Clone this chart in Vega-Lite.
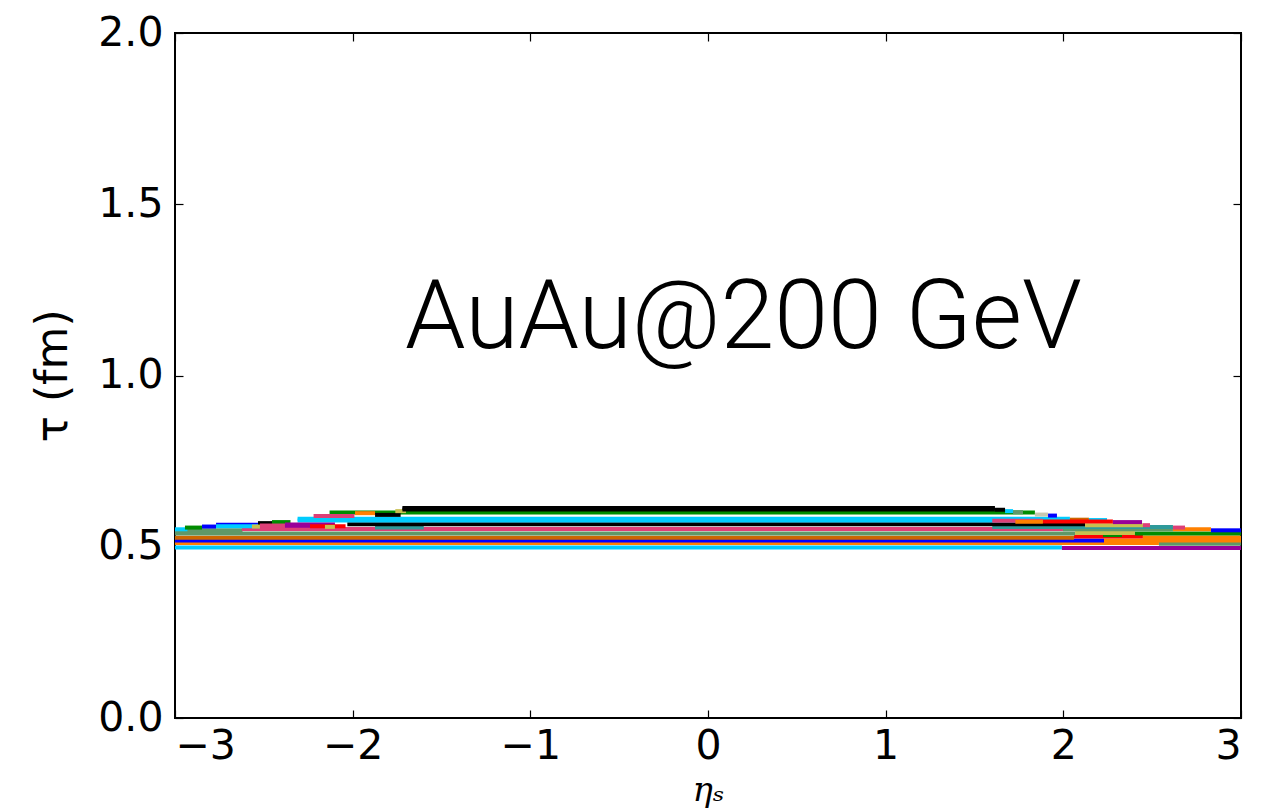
{
  "$schema": "https://vega.github.io/schema/vega-lite/v6.json",
  "autosize": {"type": "none"},
  "width": 1066,
  "height": 685,
  "padding": {"left": 175, "top": 33, "right": 41, "bottom": 90},
  "background": "white",
  "title": {"text": "ηₛ", "font": "DejaVu Serif", "fontStyle": "italic", "fontWeight": "normal", "fontSize": 36, "offset": 26, "color": "black"},
  "config": {
    "view": {"stroke": "black", "strokeWidth": 2},
    "axis": {"domain": false, "grid": false, "tickColor": "black", "tickWidth": 1.2, "tickSize": -8, "labelColor": "black", "titleColor": "black", "labelFont": "DejaVu Sans", "labelFontSize": 41, "titleFont": "DejaVu Sans", "titleFontWeight": "normal"}
  },
  "layer": [
    {
      "data": {"values": [
        {"x": -3, "x2": 1.992, "y": 0.498, "ev": "e2"},
        {"x": 1.992, "x2": 3, "y": 0.496, "ev": "e9"},
        {"x": -3, "x2": 2.538, "y": 0.511, "ev": "e5"},
        {"x": 2.538, "x2": 3, "y": 0.509, "ev": "e8"},
        {"x": -3, "x2": 2.229, "y": 0.518, "ev": "e3"},
        {"x": 2.229, "x2": 3, "y": 0.518, "ev": "e5"},
        {"x": -3, "x2": 2.06, "y": 0.526, "ev": "e6"},
        {"x": 2.06, "x2": 2.448, "y": 0.530, "ev": "e12"},
        {"x": 2.448, "x2": 3, "y": 0.527, "ev": "e5"},
        {"x": 2.223, "x2": 2.33, "y": 0.534, "ev": "e4"},
        {"x": -3, "x2": 2.066, "y": 0.539, "ev": "e8"},
        {"x": 2.066, "x2": 2.403, "y": 0.540, "ev": "e10"},
        {"x": 2.403, "x2": 3, "y": 0.539, "ev": "e4"},
        {"x": -3, "x2": -2.62, "y": 0.548, "ev": "e8"},
        {"x": -2.623, "x2": 1.998, "y": 0.552, "ev": "e7"},
        {"x": 1.998, "x2": 2.617, "y": 0.551, "ev": "e8"},
        {"x": 1.6, "x2": 2.617, "y": 0.558, "ev": "e11"},
        {"x": 2.617, "x2": 2.831, "y": 0.551, "ev": "e5"},
        {"x": 2.617, "x2": 2.685, "y": 0.556, "ev": "e7"},
        {"x": 2.831, "x2": 3, "y": 0.548, "ev": "e3"},
        {"x": -1.874, "x2": -1.6, "y": 0.556, "ev": "e11"},
        {"x": -2.03, "x2": 2.122, "y": 0.566, "ev": "e1"},
        {"x": 2.122, "x2": 2.448, "y": 0.563, "ev": "e10"},
        {"x": 2.448, "x2": 2.488, "y": 0.563, "ev": "e7"},
        {"x": -2.31, "x2": 2.037, "y": 0.577, "ev": "e2"},
        {"x": -2.31, "x2": 2.037, "y": 0.582, "ev": "e2"},
        {"x": 2.037, "x2": 2.144, "y": 0.579, "ev": "e6"},
        {"x": 2.144, "x2": 2.246, "y": 0.578, "ev": "e2"},
        {"x": 1.885, "x2": 2.279, "y": 0.574, "ev": "e12"},
        {"x": 2.279, "x2": 2.443, "y": 0.572, "ev": "e9"},
        {"x": 1.6, "x2": 1.885, "y": 0.576, "ev": "e7"},
        {"x": 1.73, "x2": 1.885, "y": 0.573, "ev": "e5"},
        {"x": -2.13, "x2": 1.84, "y": 0.600, "ev": "e4"},
        {"x": -1.987, "x2": -1.874, "y": 0.598, "ev": "e5"},
        {"x": -2.22, "x2": -1.99, "y": 0.590, "ev": "e7"},
        {"x": -1.874, "x2": -1.73, "y": 0.593, "ev": "e1"},
        {"x": 1.84, "x2": 1.914, "y": 0.594, "ev": "e13"},
        {"x": 1.914, "x2": 1.964, "y": 0.591, "ev": "e3"},
        {"x": 1.717, "x2": 1.773, "y": 0.601, "ev": "e8"},
        {"x": 1.672, "x2": 1.717, "y": 0.604, "ev": "e2"},
        {"x": 1.615, "x2": 1.672, "y": 0.608, "ev": "e1"},
        {"x": -1.76, "x2": -1.70, "y": 0.604, "ev": "e10"},
        {"x": -1.72, "x2": 1.615, "y": 0.609, "ev": "e1"},
        {"x": -1.72, "x2": 1.615, "y": 0.613, "ev": "e1"},
        {"x": -3, "x2": -2.93, "y": 0.551, "ev": "e2"},
        {"x": -2.944, "x2": -2.848, "y": 0.556, "ev": "e4"},
        {"x": -2.848, "x2": -2.769, "y": 0.559, "ev": "e3"},
        {"x": -2.769, "x2": -2.522, "y": 0.564, "ev": "e3"},
        {"x": -2.769, "x2": -2.522, "y": 0.560, "ev": "e2"},
        {"x": -2.533, "x2": -2.454, "y": 0.569, "ev": "e1"},
        {"x": -2.454, "x2": -2.35, "y": 0.572, "ev": "e4"},
        {"x": -2.567, "x2": -2.522, "y": 0.559, "ev": "e10"},
        {"x": -2.522, "x2": -2.381, "y": 0.562, "ev": "e7"},
        {"x": -2.381, "x2": -2.10, "y": 0.561, "ev": "e9"},
        {"x": -2.381, "x2": -2.10, "y": 0.565, "ev": "e9"},
        {"x": -2.24, "x2": -2.04, "y": 0.560, "ev": "e12"},
        {"x": -2.156, "x2": -2.10, "y": 0.558, "ev": "e10"}
      ]},
      "mark": {"type": "rule", "strokeWidth": 4, "strokeCap": "butt"},
      "encoding": {
        "x": {"field": "x", "type": "quantitative", "scale": {"domain": [-3, 3], "nice": false, "zero": false},
              "axis": {"orient": "bottom", "values": [-3, -2, -1, 0, 1, 2, 3], "format": "d", "labelPadding": 16, "title": "ηₛ", "titleFont": "DejaVu Serif", "titleFontStyle": "italic", "titleFontSize": 34, "titlePadding": 7}},
        "x2": {"field": "x2"},
        "y": {"field": "y", "type": "quantitative", "scale": {"domain": [0, 2], "nice": false, "zero": false},
              "axis": {"orient": "left", "values": [0, 0.5, 1, 1.5, 2], "format": ".1f", "labelPadding": 20, "title": "τ (fm)", "titleFontSize": 44, "titlePadding": 22}},
        "color": {"field": "ev", "type": "nominal", "legend": null,
                  "scale": {"domain": ["e1","e2","e3","e4","e5","e6","e7","e8","e9","e10","e11","e12","e13"],
                            "range": ["#000000","#00ccff","#0000ff","#008c00","#ff8000","#cc6600","#dd3f77","#5f9868","#990099","#c8c050","#2e9a9a","#ff0000","#c8c8b0"]}}
      }
    },
    {
      "data": {"values": [{"x": -1.705, "y": 1.08, "label": "AuAu@200 GeV"}]},
      "mark": {"type": "text", "align": "left", "baseline": "alphabetic", "font": "Roboto", "fontWeight": 300, "fontSize": 97, "color": "black"},
      "encoding": {
        "x": {"field": "x", "type": "quantitative", "axis": {"orient": "top", "values": [-3, -2, -1, 0, 1, 2, 3], "labels": false, "title": null}},
        "y": {"field": "y", "type": "quantitative", "axis": {"orient": "right", "values": [0, 0.5, 1, 1.5, 2], "labels": false, "title": null}},
        "text": {"field": "label"}
      }
    }
  ]
}
